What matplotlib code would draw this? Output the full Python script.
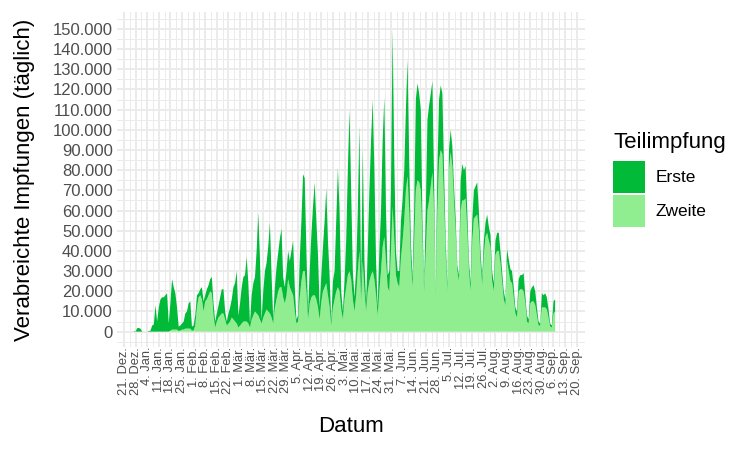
import numpy as np
import pandas as pd
import matplotlib
matplotlib.use("Agg")
import matplotlib.pyplot as plt
import matplotlib.dates as mdates
from matplotlib.patches import Patch
from matplotlib.ticker import FuncFormatter, MultipleLocator

plt.rcParams['font.family'] = ['Liberation Sans', 'DejaVu Sans']

# Tägliche Impfungen (in Tausend), ab 27.12.2020, je Zeile eine Woche (Mo-So)
start_datum = "2020-12-27"
erste_k = [
    0.3,
    0.1, 1.7, 1.8, 1.4, 0, 0, 0,
    0, 0.3, 0.5, 3, 3.5, 13, 5,
    12, 16, 17, 17, 18, 19, 4,
    13.5, 25, 21, 18, 11, 2.2, 2.5,
    3, 4, 7.5, 8.5, 12.5, 13.5, 2,
    2.5, 5, 6, 2, 3, 6, 5,
    3, 5, 5, 6, 8, 6, 3,
    4, 6, 9, 12, 12, 4, 2,
    5, 7, 9, 16, 19, 26, 6,
    11, 18, 22, 23, 32, 20, 2,
    12, 16, 17, 31, 51, 30, 2,
    13, 21, 23, 32, 45, 21, 2,
    10, 16, 19, 24, 29, 10, 8,
    12, 14, 13, 20, 27, 12, 2,
    3, 19, 30, 48, 46, 20, 4,
    16, 31, 44, 56, 39, 26, 6,
    13, 22, 33, 47, 27, 16, 2,
    13, 14, 35, 59, 40, 9, 4,
    9, 23, 52, 80, 44, 14, 7,
    12, 30, 62, 7, 56, 15, 4,
    20, 45, 67, 85, 54, 17, 4,
    20, 30, 53, 69, 25, 6, 10,
    30, 88, 40, 12, 6, 8, 19,
    20, 25, 40, 58, 25, 10, 4,
    15, 45, 48, 44, 40, 10, 3,
    20, 45, 47, 46, 45, 15, 2,
    20, 30, 32, 30, 15, 7, 4,
    10, 11, 10, 8, 6, 3, 3,
    15, 18, 15, 16, 10, 5, 4,
    10, 14, 15, 16, 10, 6, 4,
    7, 7, 9, 7, 6, 5, 4,
    7, 9, 9, 6, 5, 4, 3,
    6, 6, 6, 6, 5, 3, 3,
    6, 7, 7, 9, 4, 3, 2,
    6, 7, 8, 7, 4, 2, 1,
    7, 6, 7, 6, 4, 1.5, 1,
    6, 6,
]
zweite_k = [
    0,
    0, 0, 0, 0, 0, 0, 0,
    0, 0, 0, 0, 0, 0, 0,
    0, 0, 0, 0, 0, 0, 0,
    0.5, 1, 1, 1, 1, 0.3, 0.5,
    1, 1, 1.5, 1.5, 1.5, 1.5, 0.5,
    0.5, 3, 12, 17, 18, 16, 10,
    15, 16, 18, 20, 19, 8, 2,
    5, 7, 8, 9, 9, 6, 3,
    4, 5, 7, 6, 5, 4, 2,
    3, 4, 5, 5, 5, 4, 2,
    6, 8, 10, 9, 8, 6, 4,
    7, 9, 11, 10, 9, 7, 4,
    12, 16, 20, 22, 22, 17, 14,
    18, 26, 22, 20, 18, 10, 4,
    5, 17, 25, 30, 30, 20, 6,
    14, 17, 18, 18, 16, 12, 6,
    15, 20, 22, 24, 18, 12, 3,
    12, 16, 20, 22, 20, 11, 6,
    16, 22, 28, 30, 26, 16, 10,
    18, 30, 40, 15, 35, 20, 10,
    20, 25, 28, 30, 26, 18, 8,
    20, 30, 42, 47, 35, 22, 20,
    40, 62, 45, 28, 24, 22, 36,
    45, 55, 70, 77, 60, 35, 22,
    45, 70, 75, 74, 70, 45, 20,
    40, 60, 65, 72, 79, 60, 18,
    60, 85, 90, 88, 65, 38, 20,
    80, 89, 82, 64, 50, 30, 25,
    60, 65, 65, 66, 50, 30, 20,
    45, 56, 57, 58, 50, 34, 23,
    38, 47, 49, 45, 42, 25, 20,
    38, 40, 40, 34, 25, 16, 13,
    35, 30, 25, 24, 17, 9, 7,
    20, 21, 21, 20, 14, 5, 4,
    14, 15, 15, 13, 8, 3, 3,
    12, 12, 12, 11, 7, 2.5, 2,
    9, 10,
]
serien = ["Erste", "Zweite"]
farben = {"Erste": "#00BA38", "Zweite": "#90EE90"}
monate = ["Jan.", "Feb.", "Mär.", "Apr.", "Mai.", "Jun.", "Jul.", "Aug.", "Sep.", "Okt.", "Nov.", "Dez."]
erster_tick = "2020-12-21"
letzter_tick = "2021-09-20"

datum = pd.date_range(start_datum, periods=len(erste_k), freq="D")
erste = np.array(erste_k) * 1000
zweite = np.array(zweite_k) * 1000

fig = plt.figure(figsize=(7.5, 4.5), dpi=100)
ax = fig.add_axes([0.156, 0.229, 0.624, 0.744])

ax.stackplot(datum, zweite, erste, colors=[farben["Zweite"], farben["Erste"]], linewidth=0)

# Achsen
ticks = pd.date_range(erster_tick, letzter_tick, freq="7D")
tick_num = mdates.date2num(ticks)
ax.set_xticks(tick_num)
ax.set_xticklabels([f"{t.day}. {monate[t.month - 1]}" for t in ticks], rotation=90)
ax.set_xticks(tick_num[:-1] + 3.5, minor=True)
x0 = mdates.date2num(pd.Timestamp(erster_tick))
ax.set_xlim(x0 - 4.2, x0 + 278)

ax.set_ylim(-7600, 158300)
ax.yaxis.set_major_locator(MultipleLocator(10000))
ax.yaxis.set_minor_locator(MultipleLocator(5000))
ax.yaxis.set_major_formatter(FuncFormatter(lambda v, p: f"{int(v):,}".replace(",", ".")))

ax.grid(which="major", color="#EBEBEB", linewidth=1.4)
ax.grid(which="minor", color="#EBEBEB", linewidth=0.7)
ax.set_axisbelow(True)
for s in ax.spines.values():
    s.set_visible(False)
ax.tick_params(which="both", length=0)
ax.tick_params(axis="y", labelsize=12, labelcolor="#4D4D4D", pad=3)
ax.tick_params(axis="x", labelsize=9.3, labelcolor="#4D4D4D", pad=0)

ax.set_xlabel("Datum", fontsize=16, labelpad=15)
ax.set_ylabel("Verabreichte Impfungen (täglich)", fontsize=16, labelpad=13)

handles = [Patch(facecolor=farben[s], edgecolor="none", label=s) for s in serien]
leg = fig.legend(handles=handles, title="Teilimpfung", loc="upper left",
                 bbox_to_anchor=(0.806, 0.727), frameon=False, fontsize=12.5,
                 title_fontsize=16, handlelength=1.85, handleheight=2.45,
                 handletextpad=0.6, labelspacing=0.12, borderpad=0,
                 alignment="left")
leg._legend_box.sep = 6

fig.savefig("out.png", dpi=100)
